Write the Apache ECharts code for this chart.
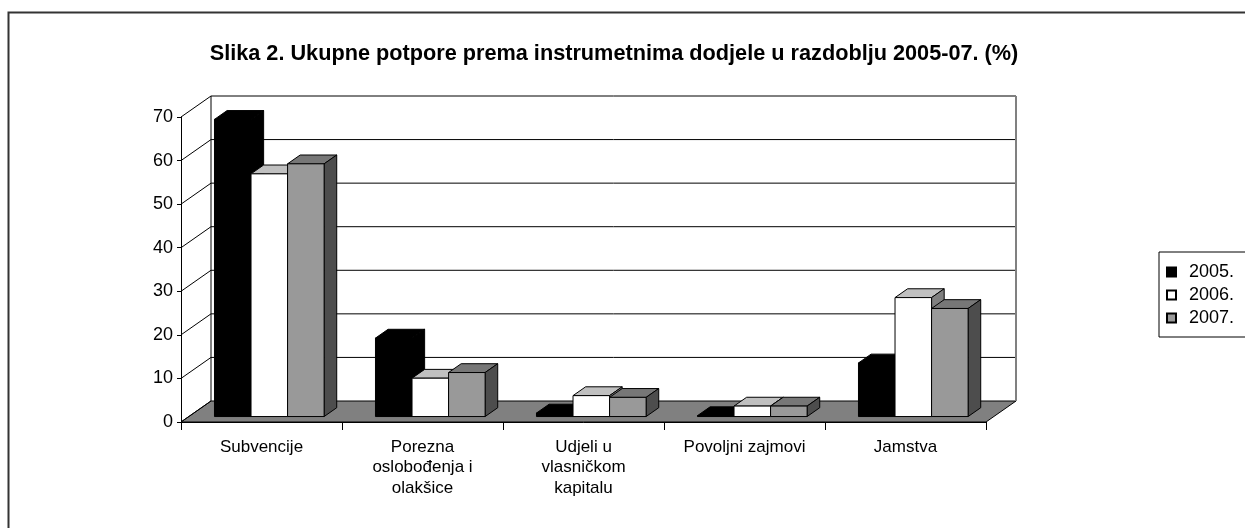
<!DOCTYPE html>
<html>
<head>
<meta charset="utf-8">
<script src="https://cdn.jsdelivr.net/npm/echarts@6/dist/echarts.min.js"></script>
<style>
html,body{margin:0;padding:0;background:#fff;}
#c{width:1245px;height:528px;}
</style>
</head>
<body>
<div id="c"></div>
<script>
const titleText = 'Slika 2. Ukupne potpore prema instrumetnima dodjele u razdoblju 2005-07. (%)';
const categories = ['Subvencije', 'Porezna\noslobođenja i\nolakšice', 'Udjeli u\nvlasničkom\nkapitalu', 'Povoljni zajmovi', 'Jamstva'];
const years = ['2005.', '2006.', '2007.'];
const v2005 = [68.2, 18.0, 0.8, 0.2, 12.3];
const v2006 = [55.7, 8.8, 4.8, 2.4, 27.3];
const v2007 = [58.0, 10.1, 4.4, 2.4, 24.8];
const yTicks = [0, 10, 20, 30, 40, 50, 60, 70];

// 3D projection styling
const DX = 30, DY = -21;        // full depth of the plot box
const FRONT = 0.26, BACK = 0.68; // bar depth position (fraction of full depth)
const BAR_FRAC = 0.227;          // bar width as fraction of category band
const faceColors = [
  {front: '#000000', top: '#000000', side: '#000000'},
  {front: '#ffffff', top: '#c0c0c0', side: '#808080'},
  {front: '#999999', top: '#777777', side: '#4d4d4d'}
];

const FONT = 'Liberation Sans, Arial, sans-serif';

function wallsRender(params, api) {
  const cs = params.coordSys;
  const x0 = cs.x, x1 = cs.x + cs.width;
  const y0 = api.coord([0, 0])[1];
  const yTop = api.coord([0, yTicks[yTicks.length - 1]])[1];
  const children = [];
  children.push({
    type: 'polygon',
    shape: {points: [[x0, y0], [x1, y0], [x1 + DX, y0 + DY], [x0 + DX, y0 + DY]]},
    style: {fill: '#808080', stroke: '#000', lineWidth: 1}
  });
  yTicks.forEach(function (v) {
    const y = api.coord([0, v])[1];
    children.push({type: 'line', shape: {x1: x0, y1: y, x2: x0 + DX, y2: y + DY}, style: {stroke: '#000', lineWidth: 1}});
    if (v !== 0) {
      children.push({type: 'line', shape: {x1: x0 + DX, y1: y + DY, x2: x1 + DX, y2: y + DY}, style: {stroke: '#000', lineWidth: 1}});
    }
  });
  children.push({type: 'line', shape: {x1: x0 + DX, y1: yTop + DY, x2: x0 + DX, y2: y0 + DY}, style: {stroke: '#000', lineWidth: 1}});
  children.push({type: 'line', shape: {x1: x1 + DX, y1: yTop + DY, x2: x1 + DX, y2: y0 + DY}, style: {stroke: '#808080', lineWidth: 2}});
  return {type: 'group', children: children};
}

function makeBarSeries(name, values, s) {
  const col = faceColors[s];
  return {
    name: name,
    type: 'custom',
    z: 5 + s,
    clip: false,
    itemStyle: {color: col.front, borderColor: '#000', borderWidth: 1},
    data: values.map(function (v, i) { return [i, v]; }),
    renderItem: function (params, api) {
      const i = api.value(0), v = api.value(1);
      const bw = api.size([1, 0])[0];
      const w = bw * BAR_FRAC;
      const cx = api.coord([i, 0])[0];
      const fdx = FRONT * DX, fdy = FRONT * DY;
      const bdx = (BACK - FRONT) * DX, bdy = (BACK - FRONT) * DY;
      const xl = cx + (s - 1.5) * w + fdx;
      const xr = xl + w;
      const yb = api.coord([i, 0])[1] + fdy;
      const yt = api.coord([i, v])[1] + fdy;
      const st = {stroke: '#000', lineWidth: 1, lineJoin: 'miter'};
      return {
        type: 'group',
        children: [
          {type: 'polygon', shape: {points: [[xl, yt], [xr, yt], [xr + bdx, yt + bdy], [xl + bdx, yt + bdy]]},
           style: Object.assign({fill: col.top}, st)},
          {type: 'polygon', shape: {points: [[xr, yt], [xr + bdx, yt + bdy], [xr + bdx, yb + bdy], [xr, yb]]},
           style: Object.assign({fill: col.side}, st)},
          {type: 'rect', shape: {x: xl, y: yt, width: w, height: yb - yt},
           style: Object.assign({fill: col.front}, st)}
        ]
      };
    }
  };
}

const chart = echarts.init(document.getElementById('c'), null, {renderer: 'canvas'});
chart.setOption({
  animation: false,
  backgroundColor: '#fff',
  textStyle: {fontFamily: FONT},
  title: {
    text: titleText,
    left: 609, top: 38, textAlign: 'center',
    textStyle: {fontFamily: FONT, fontSize: 21.7, fontWeight: 'bold', color: '#000'}
  },
  graphic: [{
    type: 'rect', left: 6, top: 10, z: -10,
    shape: {width: 1300, height: 600},
    style: {fill: 'none', stroke: '#333', lineWidth: 2}
  }],
  legend: {
    orient: 'vertical',
    left: 1159, top: 252,
    data: years,
    icon: 'rect',
    itemWidth: 9, itemHeight: 9,
    itemGap: 5,
    padding: [11, 30, 10, 7],
    borderColor: '#000', borderWidth: 1,
    textStyle: {fontFamily: FONT, fontSize: 18, lineHeight: 18, color: '#000', padding: [0, 0, 0, 8]}
  },
  grid: {left: 181, right: 259, top: 117, bottom: 106},
  xAxis: {
    type: 'category',
    data: categories,
    axisLine: {show: true, lineStyle: {color: '#000', width: 1}},
    axisTick: {show: true, length: 8, lineStyle: {color: '#000'}},
    axisLabel: {interval: 0, fontFamily: FONT, fontSize: 17, lineHeight: 20.5, color: '#000', margin: 15}
  },
  yAxis: {
    type: 'value',
    min: 0, max: 70, interval: 10,
    axisLine: {show: true, lineStyle: {color: '#000', width: 1}},
    axisTick: {show: true, length: 4, lineStyle: {color: '#000'}},
    splitLine: {show: false},
    axisLabel: {fontFamily: FONT, fontSize: 18, color: '#000', margin: 8}
  },
  series: [
    {
      name: 'walls', type: 'custom', z: 1, clip: false, silent: true,
      data: [[0, 0]],
      renderItem: wallsRender
    },
    makeBarSeries(years[0], v2005, 0),
    makeBarSeries(years[1], v2006, 1),
    makeBarSeries(years[2], v2007, 2)
  ]
});
</script>
</body>
</html>
